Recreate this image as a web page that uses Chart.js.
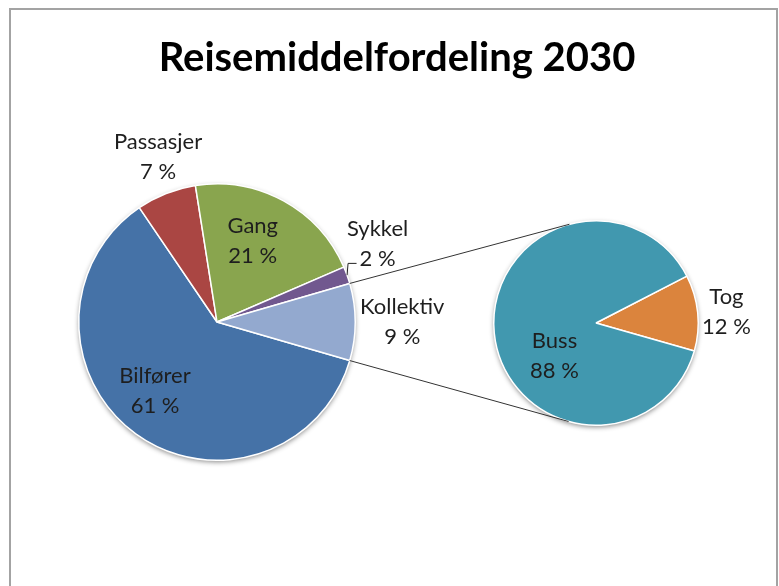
<!DOCTYPE html>
<html>
<head>
<meta charset="utf-8">
<script src="https://cdn.jsdelivr.net/npm/chart.js@4.4.0/dist/chart.umd.min.js"></script>
<style>
    body { margin: 0; background: #fff; }
    .wrap { position: relative; width: 779px; height: 586px; overflow: hidden; }
    .frame { position: absolute; left: 9px; top: 8px; width: 765px; height: 600px; border: 2px solid #a3a3a3; }
    canvas { position: absolute; left: 0; top: 0; }
</style>
</head>
<body>
<div class="wrap">
    <div class="frame"></div>
    <canvas id="mainPie" width="779" height="586"></canvas>
    <canvas id="subPie" width="779" height="586"></canvas>
</div>
<script>
    var titleText = 'Reisemiddelfordeling 2030';
    var mainLabels = ['Bilfører', 'Passasjer', 'Gang', 'Sykkel', 'Kollektiv'];
    var mainValues = [61, 7, 21, 2, 9];
    var subLabels = ['Tog', 'Buss'];
    var subValues = [12, 88];

    var mainColors = ['#4572A7', '#AA4643', '#89A54E', '#71588F', '#93A9CF'];
    var subColors = ['#DB843D', '#4198AF'];
    // label placement per slice: [radius factor, angle shift in degrees]
    var mainLabelPos = [[0.67, 6], [1.27, 2], [0.64, -5], [1.29, -6], [1.34, 0]];
    var subLabelPos = [[1.28, 1], [0.52, -33]];

    var labelFont = '22px Lato';
    var lineGap = 15;

    function sum(arr) {
        return arr.reduce(function(a, b) { return a + b }, 0);
    }

    // soft shadow under the pie, like the excel one
    var shadowPlugin = {
        id: 'pieShadow',
        beforeDatasetsDraw: function(chart) {
            var arc = chart.getDatasetMeta(0).data[0];
            var ctx = chart.ctx;
            ctx.save();
            ctx.shadowColor = 'rgba(0,0,0,0.45)';
            ctx.shadowBlur = 5;
            ctx.shadowOffsetY = 2;
            ctx.fillStyle = '#fff';
            ctx.beginPath();
            ctx.arc(arc.x, arc.y, arc.outerRadius, 0, Math.PI * 2);
            ctx.fill();
            ctx.restore();
        }
    };

    // the built-in title gets squeezed into the padded box, so draw it across the frame
    var titlePlugin = {
        id: 'wideTitle',
        afterDraw: function(chart) {
            var ctx = chart.ctx;
            ctx.save();
            ctx.font = 'bold 40px Lato';
            ctx.fillStyle = '#000';
            ctx.textAlign = 'center';
            ctx.textBaseline = 'alphabetic';
            ctx.fillText(titleText, 397, 71);
            ctx.restore();
        }
    };

    function labelPlugin(labels, values, pos) {
        return {
            id: 'sliceLabels',
            afterDatasetsDraw: function(chart) {
                var ctx = chart.ctx;
                var arcs = chart.getDatasetMeta(0).data;
                var total = sum(values);
                ctx.save();
                ctx.font = labelFont;
                ctx.fillStyle = '#1e1e1e';
                ctx.textAlign = 'center';
                ctx.textBaseline = 'middle';
                arcs.forEach(function(arc, i) {
                    var mid = (arc.startAngle + arc.endAngle) / 2;
                    var ang = mid + pos[i][1] * Math.PI / 180;
                    var r = arc.outerRadius * pos[i][0];
                    var x = arc.x + Math.cos(ang) * r;
                    var y = arc.y + Math.sin(ang) * r;
                    var pct = Math.round(values[i] / total * 100) + ' %';
                    ctx.fillText(labels[i], x, y - lineGap);
                    ctx.fillText(pct, x, y + lineGap);

                    // leader line for the thin outside slices
                    if (pos[i][0] > 1 && values[i] / total < 0.05) {
                        var w = ctx.measureText(pct).width;
                        var sx = arc.x + Math.cos(mid) * arc.outerRadius;
                        var sy = arc.y + Math.sin(mid) * arc.outerRadius;
                        var ex = x - w / 2 - 3;
                        var ey = y + lineGap + 4;
                        ctx.strokeStyle = '#222';
                        ctx.lineWidth = 1;
                        ctx.beginPath();
                        ctx.moveTo(sx, sy);
                        ctx.lineTo(sx + 1, ey);
                        ctx.lineTo(ex, ey);
                        ctx.stroke();
                    }
                });
                ctx.restore();
            }
        };
    }

    var mainTotal = sum(mainValues);
    var lastShare = mainValues[mainValues.length - 1] / mainTotal;

    var mainChart = new Chart(document.getElementById('mainPie').getContext('2d'), {
        type: 'pie',
        data: {
            labels: mainLabels,
            datasets: [{
                data: mainValues,
                backgroundColor: mainColors,
                borderColor: '#fff',
                borderWidth: 1.5
            }]
        },
        options: {
            responsive: false,
            animation: false,
            // keep the "Kollektiv" slice centred on the right side
            rotation: 90 + lastShare * 180,
            layout: {
                padding: { left: 78, right: 423, top: 183, bottom: 125 }
            },
            plugins: {
                legend: { display: false },
                tooltip: { enabled: false },
                title: { display: false }
            }
        },
        plugins: [shadowPlugin, labelPlugin(mainLabels, mainValues, mainLabelPos), titlePlugin]
    });

    // lines from the Kollektiv slice to the second pie
    var connectorPlugin = {
        id: 'connectors',
        afterDatasetsDraw: function(chart) {
            var src = mainChart.getDatasetMeta(0).data[mainValues.length - 1];
            var dst = chart.getDatasetMeta(0).data[0];
            var ctx = chart.ctx;
            var ends = [src.endAngle, src.startAngle];
            ctx.save();
            ctx.strokeStyle = '#333';
            ctx.lineWidth = 1;
            ends.forEach(function(a, k) {
                var px = src.x + Math.cos(a) * src.outerRadius;
                var py = src.y + Math.sin(a) * src.outerRadius;
                var dx = dst.x - px, dy = dst.y - py;
                var d = Math.sqrt(dx * dx + dy * dy);
                var th = Math.atan2(dy, dx);
                var al = Math.asin(dst.outerRadius / d);
                var t = k == 0 ? th + al : th - al;
                var len = Math.sqrt(d * d - dst.outerRadius * dst.outerRadius);
                ctx.beginPath();
                ctx.moveTo(px, py);
                ctx.lineTo(px + Math.cos(t) * len, py + Math.sin(t) * len);
                ctx.stroke();
            });
            ctx.restore();
        }
    };

    var subChart = new Chart(document.getElementById('subPie').getContext('2d'), {
        type: 'pie',
        data: {
            labels: subLabels,
            datasets: [{
                data: subValues,
                backgroundColor: subColors,
                borderColor: '#fff',
                borderWidth: 1.5
            }]
        },
        options: {
            responsive: false,
            animation: false,
            rotation: 62.7,
            layout: {
                padding: { left: 493, right: 80, top: 220, bottom: 160 }
            },
            plugins: {
                legend: { display: false },
                tooltip: { enabled: false },
                title: { display: false }
            }
        },
        plugins: [shadowPlugin, connectorPlugin, labelPlugin(subLabels, subValues, subLabelPos)]
    });
</script>
</body>
</html>
